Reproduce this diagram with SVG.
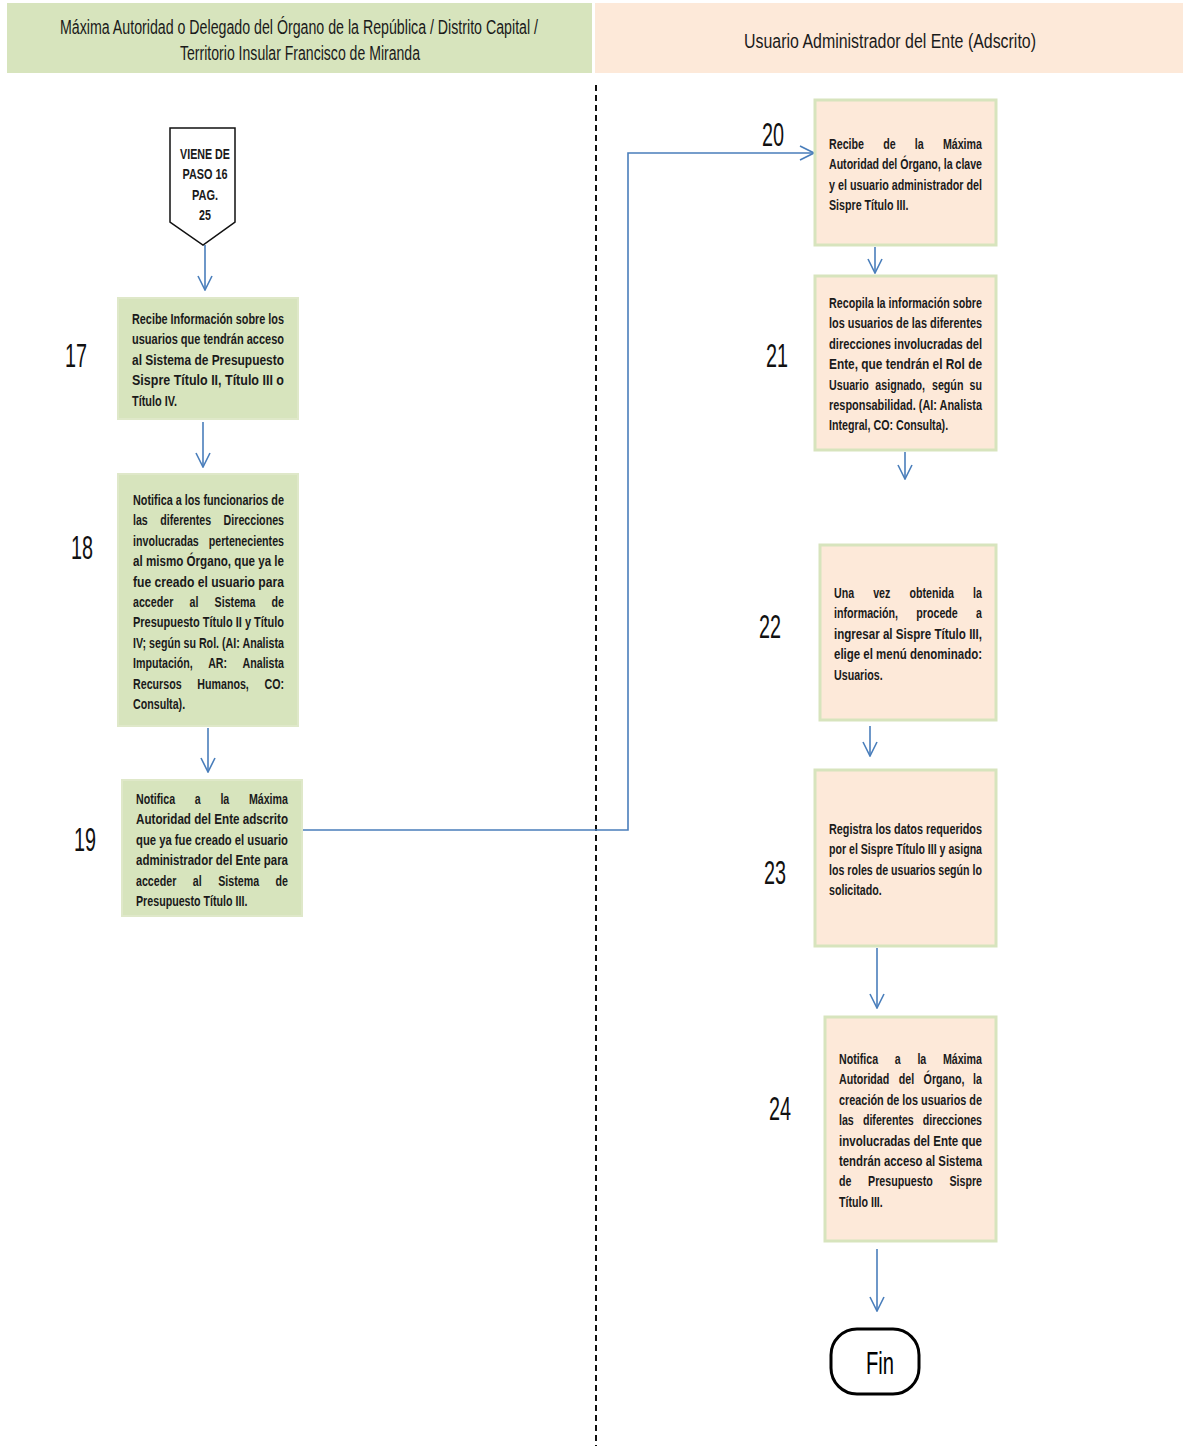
<svg xmlns="http://www.w3.org/2000/svg" width="1183" height="1446" viewBox="0 0 1183 1446">
<style>
.hdr{font-family:"Liberation Sans",Arial,sans-serif;font-size:20px;fill:#1a1a1a}
.t{font-family:"Liberation Sans",Arial,sans-serif;font-size:15.5px;font-weight:bold;fill:#1a1a1a}
.num{font-family:"Liberation Sans",Arial,sans-serif;font-size:33px;fill:#111}
.g{fill:#d7e4bd;stroke:#dfe8c9;stroke-width:2}
.p{fill:#fde9d9;stroke:#d7e4bd;stroke-width:3}
.c{fill:none;stroke:#4a7ebb;stroke-width:1.6}
</style>
<defs>
<marker id="ah" viewBox="0 0 16 16" refX="15" refY="8" markerWidth="16" markerHeight="16" markerUnits="userSpaceOnUse" orient="auto">
<path d="M1,1 L15,8 L1,15" fill="none" stroke="#4a7ebb" stroke-width="1.6"/>
</marker>
</defs>
<rect width="1183" height="1446" fill="#fff"/>
<g id="lanes">
<rect x="7" y="3" width="585" height="70" fill="#d7e4bd"/>
<rect x="595" y="3" width="588" height="70" fill="#fde9d9"/>
<text class="hdr" x="60" y="34" textLength="478" lengthAdjust="spacingAndGlyphs">Máxima Autoridad o Delegado del Órgano de la República / Distrito Capital /</text>
<text class="hdr" x="180" y="60" textLength="240" lengthAdjust="spacingAndGlyphs">Territorio Insular Francisco de Miranda</text>
<text class="hdr" x="744" y="48" textLength="292" lengthAdjust="spacingAndGlyphs">Usuario Administrador del Ente (Adscrito)</text>
<line x1="596" y1="85" x2="596" y2="1446" stroke="#111" stroke-width="2" stroke-dasharray="6,4"/>
</g>
<g id="connectors">
<line class="c" x1="205" y1="245" x2="205" y2="290" marker-end="url(#ah)"/>
<line class="c" x1="203" y1="422" x2="203" y2="467" marker-end="url(#ah)"/>
<line class="c" x1="208" y1="728" x2="208" y2="772" marker-end="url(#ah)"/>
<polyline class="c" points="302,830 628,830 628,153 814,153" marker-end="url(#ah)"/>
<line class="c" x1="875" y1="247" x2="875" y2="273" marker-end="url(#ah)"/>
<line class="c" x1="905" y1="452" x2="905" y2="479" marker-end="url(#ah)"/>
<line class="c" x1="870" y1="726" x2="870" y2="756" marker-end="url(#ah)"/>
<line class="c" x1="877" y1="948" x2="877" y2="1008" marker-end="url(#ah)"/>
<line class="c" x1="877" y1="1249" x2="877" y2="1311" marker-end="url(#ah)"/>
</g>
<g id="start">
<path d="M170,128 L235,128 L235,222 L203,245 L170,222 Z" fill="#fff" stroke="#111" stroke-width="1.5"/>
<text class="t"><tspan x="180.1" y="159" textLength="49.8" lengthAdjust="spacingAndGlyphs">VIENE DE</tspan><tspan x="182.5" y="179.4" textLength="45" lengthAdjust="spacingAndGlyphs">PASO 16</tspan><tspan x="192" y="199.8" textLength="26.1" lengthAdjust="spacingAndGlyphs">PAG.</tspan><tspan x="199" y="220.2" textLength="11.9" lengthAdjust="spacingAndGlyphs">25</tspan></text>
</g>
<g id="n17">
<rect class="g" x="118" y="298" width="180" height="121"/>
<text class="num" x="65" y="367" textLength="22" lengthAdjust="spacingAndGlyphs">17</text>
<text class="t"><tspan x="132" y="324" textLength="152" lengthAdjust="spacingAndGlyphs">Recibe Información sobre los</tspan><tspan x="132" y="344.4" textLength="152" lengthAdjust="spacingAndGlyphs">usuarios que tendrán acceso</tspan><tspan x="132" y="364.8" textLength="152" lengthAdjust="spacingAndGlyphs">al Sistema de Presupuesto</tspan><tspan x="132" y="385.2" textLength="152" lengthAdjust="spacingAndGlyphs">Sispre Título II, Título III o</tspan><tspan x="132" y="405.6" textLength="45" lengthAdjust="spacingAndGlyphs">Título IV.</tspan></text>
</g>
<g id="n18">
<rect class="g" x="118" y="474" width="180" height="252"/>
<text class="num" x="71" y="559" textLength="22" lengthAdjust="spacingAndGlyphs">18</text>
<text class="t"><tspan x="133" y="505" textLength="151" lengthAdjust="spacingAndGlyphs">Notifica a los funcionarios de</tspan><tspan x="133" y="525.4" textLength="14.8" lengthAdjust="spacingAndGlyphs">las</tspan><tspan x="160.3" y="525.4" textLength="50.9" lengthAdjust="spacingAndGlyphs">diferentes</tspan><tspan x="223.6" y="525.4" textLength="60.4" lengthAdjust="spacingAndGlyphs">Direcciones</tspan><tspan x="133" y="545.8" textLength="65.8" lengthAdjust="spacingAndGlyphs">involucradas</tspan><tspan x="208.8" y="545.8" textLength="75.2" lengthAdjust="spacingAndGlyphs">pertenecientes</tspan><tspan x="133" y="566.2" textLength="151" lengthAdjust="spacingAndGlyphs">al mismo Órgano,  que ya le</tspan><tspan x="133" y="586.6" textLength="151" lengthAdjust="spacingAndGlyphs">fue creado el usuario para</tspan><tspan x="133" y="607" textLength="40.3" lengthAdjust="spacingAndGlyphs">acceder</tspan><tspan x="189.5" y="607" textLength="8.9" lengthAdjust="spacingAndGlyphs">al</tspan><tspan x="214.6" y="607" textLength="40.9" lengthAdjust="spacingAndGlyphs">Sistema</tspan><tspan x="271.6" y="607" textLength="12.4" lengthAdjust="spacingAndGlyphs">de</tspan><tspan x="133" y="627.4" textLength="151" lengthAdjust="spacingAndGlyphs">Presupuesto Título II y Título</tspan><tspan x="133" y="647.8" textLength="151" lengthAdjust="spacingAndGlyphs">IV; según su Rol. (AI: Analista</tspan><tspan x="133" y="668.2" textLength="59.8" lengthAdjust="spacingAndGlyphs">Imputación,</tspan><tspan x="208.2" y="668.2" textLength="18.9" lengthAdjust="spacingAndGlyphs">AR:</tspan><tspan x="242.5" y="668.2" textLength="41.5" lengthAdjust="spacingAndGlyphs">Analista</tspan><tspan x="133" y="688.6" textLength="48.6" lengthAdjust="spacingAndGlyphs">Recursos</tspan><tspan x="197.3" y="688.6" textLength="51.5" lengthAdjust="spacingAndGlyphs">Humanos,</tspan><tspan x="264.5" y="688.6" textLength="19.5" lengthAdjust="spacingAndGlyphs">CO:</tspan><tspan x="133" y="709" textLength="52.1" lengthAdjust="spacingAndGlyphs">Consulta).</tspan></text>
</g>
<g id="n19">
<rect class="g" x="122" y="780" width="180" height="136"/>
<text class="num" x="74" y="851" textLength="22" lengthAdjust="spacingAndGlyphs">19</text>
<text class="t"><tspan x="136" y="804" textLength="39.1" lengthAdjust="spacingAndGlyphs">Notifica</tspan><tspan x="194.8" y="804" textLength="5.9" lengthAdjust="spacingAndGlyphs">a</tspan><tspan x="220.4" y="804" textLength="8.9" lengthAdjust="spacingAndGlyphs">la</tspan><tspan x="248.9" y="804" textLength="39.1" lengthAdjust="spacingAndGlyphs">Máxima</tspan><tspan x="136" y="824.4" textLength="152" lengthAdjust="spacingAndGlyphs">Autoridad del Ente adscrito</tspan><tspan x="136" y="844.8" textLength="152" lengthAdjust="spacingAndGlyphs">que ya fue creado el usuario</tspan><tspan x="136" y="865.2" textLength="152" lengthAdjust="spacingAndGlyphs">administrador del Ente para</tspan><tspan x="136" y="885.6" textLength="40.3" lengthAdjust="spacingAndGlyphs">acceder</tspan><tspan x="192.8" y="885.6" textLength="8.9" lengthAdjust="spacingAndGlyphs">al</tspan><tspan x="218.2" y="885.6" textLength="40.9" lengthAdjust="spacingAndGlyphs">Sistema</tspan><tspan x="275.6" y="885.6" textLength="12.4" lengthAdjust="spacingAndGlyphs">de</tspan><tspan x="136" y="906" textLength="111.4" lengthAdjust="spacingAndGlyphs">Presupuesto Título III.</tspan></text>
</g>
<g id="n20">
<rect class="p" x="815" y="100" width="181" height="145"/>
<text class="num" x="762" y="146" textLength="22" lengthAdjust="spacingAndGlyphs">20</text>
<text class="t"><tspan x="829" y="149" textLength="35" lengthAdjust="spacingAndGlyphs">Recibe</tspan><tspan x="883.2" y="149" textLength="12.4" lengthAdjust="spacingAndGlyphs">de</tspan><tspan x="914.8" y="149" textLength="8.9" lengthAdjust="spacingAndGlyphs">la</tspan><tspan x="942.9" y="149" textLength="39.1" lengthAdjust="spacingAndGlyphs">Máxima</tspan><tspan x="829" y="169.4" textLength="153" lengthAdjust="spacingAndGlyphs">Autoridad del Órgano, la clave</tspan><tspan x="829" y="189.8" textLength="153" lengthAdjust="spacingAndGlyphs">y el usuario administrador del</tspan><tspan x="829" y="210.2" textLength="79.4" lengthAdjust="spacingAndGlyphs">Sispre Título III.</tspan></text>
</g>
<g id="n21">
<rect class="p" x="815" y="276" width="181" height="174"/>
<text class="num" x="766" y="367" textLength="22" lengthAdjust="spacingAndGlyphs">21</text>
<text class="t"><tspan x="829" y="308" textLength="153" lengthAdjust="spacingAndGlyphs">Recopila la información sobre</tspan><tspan x="829" y="328.4" textLength="153" lengthAdjust="spacingAndGlyphs">los usuarios de las diferentes</tspan><tspan x="829" y="348.8" textLength="153" lengthAdjust="spacingAndGlyphs">direcciones involucradas  del</tspan><tspan x="829" y="369.2" textLength="153" lengthAdjust="spacingAndGlyphs">Ente,  que tendrán el Rol de</tspan><tspan x="829" y="389.6" textLength="39.7" lengthAdjust="spacingAndGlyphs">Usuario</tspan><tspan x="875.3" y="389.6" textLength="49.8" lengthAdjust="spacingAndGlyphs">asignado,</tspan><tspan x="932" y="389.6" textLength="31.4" lengthAdjust="spacingAndGlyphs">según</tspan><tspan x="969.6" y="389.6" textLength="12.4" lengthAdjust="spacingAndGlyphs">su</tspan><tspan x="829" y="410" textLength="153" lengthAdjust="spacingAndGlyphs">responsabilidad. (AI: Analista</tspan><tspan x="829" y="430.4" textLength="119.1" lengthAdjust="spacingAndGlyphs">Integral, CO: Consulta).</tspan></text>
</g>
<g id="n22">
<rect class="p" x="820" y="545" width="176" height="175"/>
<text class="num" x="759" y="638" textLength="22" lengthAdjust="spacingAndGlyphs">22</text>
<text class="t"><tspan x="834" y="598" textLength="20.1" lengthAdjust="spacingAndGlyphs">Una</tspan><tspan x="873.2" y="598" textLength="17.2" lengthAdjust="spacingAndGlyphs">vez</tspan><tspan x="909.5" y="598" textLength="44.4" lengthAdjust="spacingAndGlyphs">obtenida</tspan><tspan x="973.1" y="598" textLength="8.9" lengthAdjust="spacingAndGlyphs">la</tspan><tspan x="834" y="618.4" textLength="64" lengthAdjust="spacingAndGlyphs">información,</tspan><tspan x="916.3" y="618.4" textLength="41.5" lengthAdjust="spacingAndGlyphs">procede</tspan><tspan x="976.1" y="618.4" textLength="5.9" lengthAdjust="spacingAndGlyphs">a</tspan><tspan x="834" y="638.8" textLength="148" lengthAdjust="spacingAndGlyphs">ingresar al Sispre Título III,</tspan><tspan x="834" y="659.2" textLength="148" lengthAdjust="spacingAndGlyphs">elige el menú denominado:</tspan><tspan x="834" y="679.6" textLength="48.6" lengthAdjust="spacingAndGlyphs">Usuarios.</tspan></text>
</g>
<g id="n23">
<rect class="p" x="815" y="770" width="181" height="176"/>
<text class="num" x="764" y="884" textLength="22" lengthAdjust="spacingAndGlyphs">23</text>
<text class="t"><tspan x="829" y="834" textLength="153" lengthAdjust="spacingAndGlyphs">Registra los datos requeridos</tspan><tspan x="829" y="854.4" textLength="153" lengthAdjust="spacingAndGlyphs">por el Sispre Título III y asigna</tspan><tspan x="829" y="874.8" textLength="153" lengthAdjust="spacingAndGlyphs">los roles de usuarios según lo</tspan><tspan x="829" y="895.2" textLength="52.7" lengthAdjust="spacingAndGlyphs">solicitado.</tspan></text>
</g>
<g id="n24">
<rect class="p" x="825" y="1017" width="171" height="224"/>
<text class="num" x="769" y="1120" textLength="22" lengthAdjust="spacingAndGlyphs">24</text>
<text class="t"><tspan x="839" y="1064" textLength="39.1" lengthAdjust="spacingAndGlyphs">Notifica</tspan><tspan x="894.8" y="1064" textLength="5.9" lengthAdjust="spacingAndGlyphs">a</tspan><tspan x="917.4" y="1064" textLength="8.9" lengthAdjust="spacingAndGlyphs">la</tspan><tspan x="942.9" y="1064" textLength="39.1" lengthAdjust="spacingAndGlyphs">Máxima</tspan><tspan x="839" y="1084.4" textLength="50.3" lengthAdjust="spacingAndGlyphs">Autoridad</tspan><tspan x="898.8" y="1084.4" textLength="15.4" lengthAdjust="spacingAndGlyphs">del</tspan><tspan x="923.6" y="1084.4" textLength="40.9" lengthAdjust="spacingAndGlyphs">Órgano,</tspan><tspan x="973.1" y="1084.4" textLength="8.9" lengthAdjust="spacingAndGlyphs">la</tspan><tspan x="839" y="1104.8" textLength="143" lengthAdjust="spacingAndGlyphs">creación de los usuarios de</tspan><tspan x="839" y="1125.2" textLength="14.8" lengthAdjust="spacingAndGlyphs">las</tspan><tspan x="862.9" y="1125.2" textLength="50.9" lengthAdjust="spacingAndGlyphs">diferentes</tspan><tspan x="922.8" y="1125.2" textLength="59.2" lengthAdjust="spacingAndGlyphs">direcciones</tspan><tspan x="839" y="1145.6" textLength="143" lengthAdjust="spacingAndGlyphs">involucradas del Ente que</tspan><tspan x="839" y="1166" textLength="143" lengthAdjust="spacingAndGlyphs">tendrán acceso al Sistema</tspan><tspan x="839" y="1186.4" textLength="12.4" lengthAdjust="spacingAndGlyphs">de</tspan><tspan x="868.1" y="1186.4" textLength="64.6" lengthAdjust="spacingAndGlyphs">Presupuesto</tspan><tspan x="949.4" y="1186.4" textLength="32.6" lengthAdjust="spacingAndGlyphs">Sispre</tspan><tspan x="839" y="1206.8" textLength="43.8" lengthAdjust="spacingAndGlyphs">Título III.</tspan></text>
</g>
<g id="fin">
<rect x="831" y="1329" width="88" height="65" rx="26" ry="26" fill="#fff" stroke="#000" stroke-width="3"/>
<text x="866" y="1374" textLength="28" lengthAdjust="spacingAndGlyphs" style="font-family:'Liberation Sans',Arial,sans-serif;font-size:32px;fill:#000">Fin</text>
</g>
</svg>
